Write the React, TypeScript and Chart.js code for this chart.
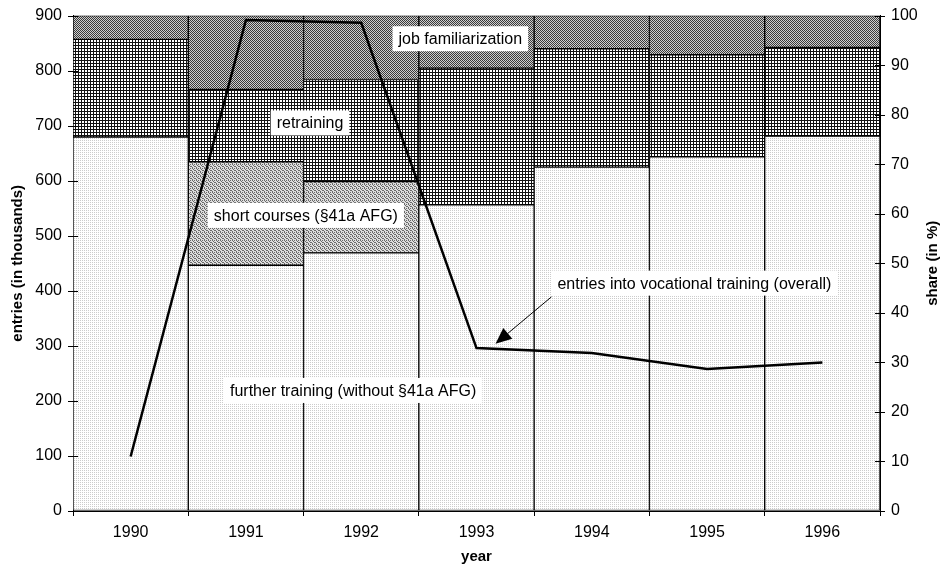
import React, { useEffect, useRef } from "react";
import { Chart, registerables } from "chart.js";

Chart.register(...registerables);

const years = ["1990", "1991", "1992", "1993", "1994", "1995", "1996"];
// overall entries, thousands (left axis)
const entriesOverall = [99, 892, 887, 296, 287, 258, 270];
// shares in % (right axis), stacked bottom to top
const furtherTraining = [75.5, 49.6, 52.1, 61.8, 69.4, 71.5, 75.7];
const shortCourses = [null, 20.9, 14.4, null, null, null, null];
const retraining = [19.7, 14.6, 20.6, 27.6, 23.9, 20.6, 17.9];
const jobFamiliarization = [4.8, 14.9, 12.9, 10.6, 6.7, 7.9, 6.4];

const leftMax = 900;
const leftStep = 100;
const rightMax = 100;
const rightStep = 10;

// annotation labels placed in data space: category index, left-axis value
const labelTexts = [
  "job familiarization",
  "retraining",
  "short courses (§41a AFG)",
  "further training (without §41a AFG)",
  "entries into vocational training (overall)",
];
const labelIndex = [2.86, 1.556, 1.52, 1.93, 4.89];
const labelValue = [858, 705, 537, 219, 414];
// arrow: from tail to tip (category index, left-axis value)
const arrowFrom = [3.65, 389];
const arrowTo = [3.165, 304];

const FONT = '"Liberation Sans", Arial, Helvetica, sans-serif';

function makePattern(size: number, draw: (g: CanvasRenderingContext2D) => void) {
  const c = document.createElement("canvas");
  c.width = size;
  c.height = size;
  const g = c.getContext("2d")!;
  draw(g);
  return g.createPattern(c, "repeat")!;
}

const decorPlugin = {
  id: "decor",
  afterDraw(chart: any) {
    const { ctx, chartArea, scales } = chart;
    const x = scales.x;
    const y = scales.y;
    const y1 = scales.y1;
    ctx.save();
    ctx.strokeStyle = "#000";
    ctx.lineWidth = 1;
    // crossing tick marks on both value axes
    y.ticks.forEach((t: any) => {
      const py = Math.round(y.getPixelForValue(t.value)) + 0.5;
      ctx.beginPath();
      ctx.moveTo(chartArea.left - 5, py);
      ctx.lineTo(chartArea.left + 5, py);
      ctx.stroke();
    });
    y1.ticks.forEach((t: any) => {
      const py = Math.round(y1.getPixelForValue(t.value)) + 0.5;
      ctx.beginPath();
      ctx.moveTo(chartArea.right - 5, py);
      ctx.lineTo(chartArea.right + 5, py);
      ctx.stroke();
    });

    // labels
    ctx.font = "16px " + FONT;
    ctx.textAlign = "center";
    ctx.textBaseline = "middle";
    labelTexts.forEach((txt, i) => {
      const px = x.getPixelForValue(labelIndex[i]);
      const py = y.getPixelForValue(labelValue[i]);
      const w = ctx.measureText(txt).width + 12;
      const h = 25;
      ctx.fillStyle = "#fff";
      ctx.fillRect(px - w / 2, py - h / 2, w, h);
      ctx.fillStyle = "#000";
      ctx.fillText(txt, px, py + 1);
    });

    // arrow
    const ax0 = x.getPixelForValue(arrowFrom[0]);
    const ay0 = y.getPixelForValue(arrowFrom[1]);
    const ax1 = x.getPixelForValue(arrowTo[0]);
    const ay1 = y.getPixelForValue(arrowTo[1]);
    const ang = Math.atan2(ay1 - ay0, ax1 - ax0);
    const headLen = 16;
    const headW = 7;
    const bx = ax1 - headLen * Math.cos(ang);
    const by = ay1 - headLen * Math.sin(ang);
    ctx.beginPath();
    ctx.moveTo(ax0, ay0);
    ctx.lineTo(bx, by);
    ctx.stroke();
    ctx.beginPath();
    ctx.moveTo(ax1, ay1);
    ctx.lineTo(bx + headW * Math.sin(ang), by - headW * Math.cos(ang));
    ctx.lineTo(bx - headW * Math.sin(ang), by + headW * Math.cos(ang));
    ctx.closePath();
    ctx.fillStyle = "#000";
    ctx.fill();

    // axis titles
    ctx.font = "bold 15px " + FONT;
    const cy = (chartArea.top + chartArea.bottom) / 2;
    ctx.save();
    ctx.translate(18, cy);
    ctx.rotate(-Math.PI / 2);
    ctx.fillText("entries (in thousands)", 0, 0);
    ctx.restore();
    ctx.save();
    ctx.translate(933, cy);
    ctx.rotate(-Math.PI / 2);
    ctx.fillText("share (in %)", 0, 0);
    ctx.restore();
    ctx.fillText("year", (chartArea.left + chartArea.right) / 2, 557);
    ctx.restore();
  },
};

export default function App() {
  const ref = useRef<HTMLCanvasElement>(null);
  useEffect(() => {
    const canvas = ref.current!;
    const further = makePattern(2, (g) => {
      g.fillStyle = "#ffffff";
      g.fillRect(0, 0, 2, 2);
      g.fillStyle = "#cccccc";
      g.fillRect(0, 0, 1, 1);
    });
    const short = makePattern(4, (g) => {
      g.fillStyle = "#dedede";
      g.fillRect(0, 0, 4, 4);
      g.fillStyle = "#6a6a6a";
      const pts = [[0, 0], [2, 0], [1, 1], [3, 2], [0, 3], [2, 2]];
      pts.forEach(([i, j]) => g.fillRect(i, j, 1, 1));
    });
    const retr = makePattern(3, (g) => {
      g.fillStyle = "#ffffff";
      g.fillRect(0, 0, 3, 3);
      g.fillStyle = "#111111";
      g.fillRect(0, 0, 3, 1);
      g.fillRect(0, 0, 1, 3);
    });
    const job = makePattern(2, (g) => {
      g.fillStyle = "#cfcfcf";
      g.fillRect(0, 0, 2, 2);
      g.fillStyle = "#3a3a3a";
      g.fillRect(0, 0, 1, 1);
      g.fillRect(1, 1, 1, 1);
    });

    const barCommon = {
      type: "bar" as const,
      yAxisID: "y1",
      borderColor: "#000",
      borderWidth: 1,
      borderSkipped: false,
      barPercentage: 1,
      categoryPercentage: 1,
      order: 2,
    };
    const tickFont = { family: FONT, size: 16 };

    const chart = new Chart(canvas, {
      data: {
        labels: years,
        datasets: [
          {
            type: "line",
            label: "entries into vocational training (overall)",
            data: entriesOverall,
            yAxisID: "y",
            borderColor: "#000",
            borderWidth: 2.5,
            pointRadius: 0,
            tension: 0,
            fill: false,
            order: 1,
          } as any,
          { ...barCommon, label: "further training", data: furtherTraining, backgroundColor: further },
          { ...barCommon, label: "short courses", data: shortCourses, backgroundColor: short },
          { ...barCommon, label: "retraining", data: retraining, backgroundColor: retr },
          { ...barCommon, label: "job familiarization", data: jobFamiliarization, backgroundColor: job },
        ],
      },
      options: {
        responsive: false,
        maintainAspectRatio: false,
        devicePixelRatio: 1,
        animation: false,
        layout: { padding: { top: 13, left: 0, right: 0, bottom: 0 } },
        plugins: { legend: { display: false }, tooltip: { enabled: false } },
        scales: {
          x: {
            type: "category",
            stacked: true,
            offset: true,
            grid: {
              offset: true,
              drawOnChartArea: false,
              drawTicks: true,
              tickLength: 5,
              color: "#000",
            },
            border: { display: true, color: "#000", width: 1 },
            ticks: { font: tickFont, color: "#000", padding: 7, maxRotation: 0 },
            afterFit: (s: any) => {
              s.height = 60;
            },
          },
          y: {
            position: "left",
            min: 0,
            max: leftMax,
            ticks: { stepSize: leftStep, font: tickFont, color: "#000", padding: 6 },
            grid: { drawOnChartArea: false, drawTicks: true, tickLength: 5, color: "rgba(0,0,0,0)" },
            border: { display: true, color: "#000", width: 1 },
            afterFit: (s: any) => {
              s.width = 73;
            },
          },
          y1: {
            position: "right",
            min: 0,
            max: rightMax,
            stacked: true,
            ticks: { stepSize: rightStep, font: tickFont, color: "#000", padding: 6 },
            grid: { drawOnChartArea: false, drawTicks: true, tickLength: 5, color: "rgba(0,0,0,0)" },
            border: { display: true, color: "#000", width: 1 },
            afterFit: (s: any) => {
              s.width = 63;
            },
          },
        },
      } as any,
      plugins: [decorPlugin],
    });
    return () => chart.destroy();
  }, []);

  return (
    <div style={{ position: "absolute", left: 0, top: 0, width: 943, height: 571, background: "#fff" }}>
      <canvas ref={ref} width={943} height={571} style={{ display: "block" }} />
    </div>
  );
}
